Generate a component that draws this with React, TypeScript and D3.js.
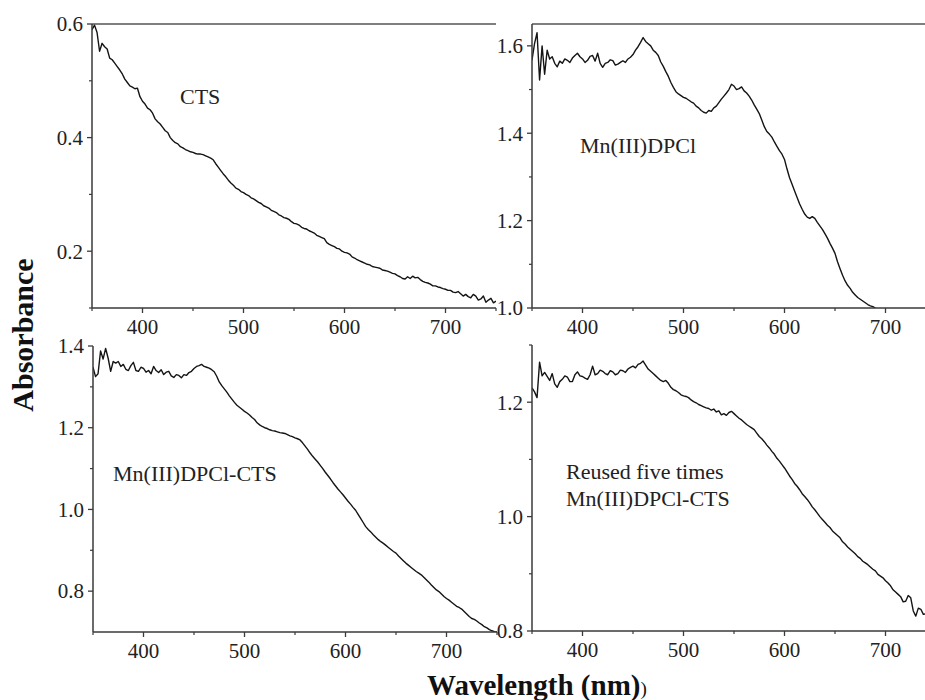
import React from "react";
import * as d3 from "d3";

// wavelengths (nm), 2.5 nm grid
const wavelengths: number[] = d3.range(350, 750.1, 2.5);

const ctsValues: number[] = [
  0.590, 0.598, 0.585, 0.552,
  0.566, 0.560, 0.556, 0.540,
  0.537, 0.531, 0.525, 0.519,
  0.512, 0.503, 0.497, 0.491,
  0.489, 0.486, 0.487, 0.472,
  0.464, 0.459, 0.452, 0.449,
  0.443, 0.433, 0.428, 0.424,
  0.418, 0.412, 0.409, 0.400,
  0.395, 0.391, 0.389, 0.384,
  0.382, 0.379, 0.377, 0.375,
  0.374, 0.372, 0.371, 0.371,
  0.370, 0.368, 0.366, 0.364,
  0.361, 0.354, 0.348, 0.342,
  0.336, 0.331, 0.325, 0.320,
  0.316, 0.311, 0.309, 0.305,
  0.303, 0.300, 0.298, 0.294,
  0.292, 0.289, 0.286, 0.284,
  0.280, 0.278, 0.276, 0.272,
  0.270, 0.268, 0.264, 0.262,
  0.259, 0.258, 0.256, 0.252,
  0.249, 0.248, 0.246, 0.242,
  0.240, 0.239, 0.236, 0.234,
  0.232, 0.228, 0.226, 0.224,
  0.222, 0.215, 0.212, 0.210,
  0.208, 0.205, 0.204, 0.200,
  0.198, 0.197, 0.195, 0.190,
  0.188, 0.185, 0.183, 0.181,
  0.179, 0.177, 0.176, 0.173,
  0.172, 0.171, 0.170, 0.167,
  0.166, 0.165, 0.163, 0.161,
  0.160, 0.157, 0.155, 0.152,
  0.151, 0.155, 0.152, 0.156,
  0.153, 0.154, 0.150, 0.147,
  0.145, 0.144, 0.142, 0.139,
  0.139, 0.137, 0.136, 0.134,
  0.133, 0.131, 0.131, 0.128,
  0.127, 0.129, 0.125, 0.121,
  0.124, 0.120, 0.118, 0.124,
  0.121, 0.114, 0.116, 0.121,
  0.110, 0.114, 0.117, 0.109,
  0.112,
];

// Mn(III)DPCl (350–690 nm)
const mnValues: number[] = [
  1.567, 1.605, 1.630, 1.522,
  1.600, 1.535, 1.590, 1.570,
  1.575, 1.560, 1.552, 1.565,
  1.560, 1.570, 1.567, 1.562,
  1.572, 1.578, 1.583, 1.575,
  1.570, 1.562, 1.567, 1.576,
  1.578, 1.565, 1.583, 1.560,
  1.551, 1.560, 1.562, 1.568,
  1.566, 1.556, 1.558, 1.562,
  1.566, 1.562, 1.570, 1.574,
  1.580, 1.590, 1.598, 1.608,
  1.619, 1.610, 1.605, 1.600,
  1.590, 1.585, 1.578, 1.563,
  1.553, 1.541, 1.530, 1.516,
  1.505, 1.495, 1.490, 1.486,
  1.482, 1.480, 1.476, 1.472,
  1.469, 1.462, 1.458, 1.452,
  1.448, 1.446, 1.452, 1.450,
  1.458, 1.462, 1.470, 1.478,
  1.485, 1.492, 1.500, 1.512,
  1.508, 1.500, 1.502, 1.506,
  1.497, 1.492, 1.485, 1.476,
  1.465, 1.455, 1.445, 1.430,
  1.415, 1.404, 1.398, 1.391,
  1.380, 1.370, 1.360, 1.352,
  1.340, 1.318, 1.298, 1.283,
  1.268, 1.253, 1.238, 1.226,
  1.215, 1.208, 1.205, 1.209,
  1.205, 1.196, 1.188, 1.180,
  1.170, 1.160, 1.148, 1.137,
  1.125, 1.106, 1.090, 1.075,
  1.062, 1.052, 1.045, 1.036,
  1.030, 1.024, 1.020, 1.016,
  1.012, 1.008, 1.005, 1.003,
  1.000,
];

const mnCtsValues: number[] = [
  1.348, 1.325, 1.332, 1.388,
  1.368, 1.394, 1.370, 1.338,
  1.362, 1.358, 1.362, 1.350,
  1.355, 1.343, 1.340, 1.352,
  1.360, 1.340, 1.338, 1.348,
  1.345, 1.336, 1.340, 1.332,
  1.350, 1.340, 1.335, 1.342,
  1.330, 1.336, 1.338, 1.327,
  1.323, 1.330, 1.328, 1.322,
  1.330, 1.328, 1.335, 1.338,
  1.345, 1.350, 1.352, 1.355,
  1.350, 1.348, 1.346, 1.342,
  1.337, 1.326, 1.312, 1.303,
  1.295, 1.287, 1.278, 1.270,
  1.262, 1.255, 1.250, 1.245,
  1.240, 1.236, 1.231, 1.225,
  1.220, 1.212, 1.207, 1.203,
  1.200, 1.198, 1.195, 1.193,
  1.192, 1.190, 1.188, 1.187,
  1.186, 1.183, 1.180, 1.178,
  1.175, 1.173, 1.170, 1.163,
  1.155, 1.147, 1.138, 1.130,
  1.123, 1.116, 1.108, 1.100,
  1.091, 1.083, 1.075, 1.066,
  1.058, 1.050, 1.043, 1.036,
  1.028, 1.020, 1.013, 1.005,
  0.998, 0.988, 0.978, 0.968,
  0.958, 0.951, 0.945, 0.938,
  0.932, 0.926, 0.921, 0.917,
  0.912, 0.907, 0.902, 0.897,
  0.893, 0.886, 0.880, 0.874,
  0.868, 0.863, 0.858, 0.853,
  0.848, 0.844, 0.840, 0.834,
  0.828, 0.822, 0.815, 0.809,
  0.803, 0.799, 0.793, 0.787,
  0.782, 0.778, 0.773, 0.768,
  0.763, 0.760, 0.756, 0.750,
  0.744, 0.738, 0.733, 0.731,
  0.727, 0.722, 0.718, 0.713,
  0.710, 0.706, 0.703, 0.701,
  0.700,
];

const reusedValues: number[] = [
  1.225, 1.218, 1.208, 1.270,
  1.246, 1.252, 1.245, 1.238,
  1.250, 1.232, 1.226, 1.236,
  1.240, 1.246, 1.244, 1.236,
  1.236, 1.248, 1.253, 1.246,
  1.245, 1.242, 1.240, 1.248,
  1.263, 1.248, 1.250, 1.256,
  1.254, 1.250, 1.248, 1.255,
  1.253, 1.248, 1.250, 1.256,
  1.255, 1.252, 1.258, 1.261,
  1.263, 1.260, 1.266, 1.268,
  1.272, 1.265, 1.258, 1.254,
  1.250, 1.246, 1.242, 1.238,
  1.236, 1.238, 1.233, 1.226,
  1.222, 1.220, 1.217, 1.213,
  1.211, 1.210, 1.208, 1.204,
  1.201, 1.199, 1.196, 1.194,
  1.192, 1.190, 1.189, 1.186,
  1.188, 1.183, 1.185, 1.178,
  1.180, 1.177, 1.182, 1.184,
  1.180, 1.176, 1.172, 1.169,
  1.165, 1.161, 1.158, 1.155,
  1.152, 1.146, 1.140, 1.136,
  1.131, 1.125, 1.120, 1.114,
  1.109, 1.102, 1.097, 1.091,
  1.085, 1.078, 1.071, 1.065,
  1.058, 1.053, 1.047, 1.040,
  1.035, 1.030, 1.024, 1.017,
  1.012, 1.006, 1.000, 0.995,
  0.990, 0.985, 0.981, 0.975,
  0.971, 0.967, 0.963, 0.956,
  0.952, 0.947, 0.943, 0.939,
  0.935, 0.930, 0.927, 0.922,
  0.919, 0.916, 0.912, 0.908,
  0.905, 0.899, 0.896, 0.893,
  0.888, 0.884, 0.879, 0.872,
  0.868, 0.864, 0.860, 0.851,
  0.852, 0.862, 0.858, 0.835,
  0.826, 0.840, 0.838, 0.829,
  0.830, 0.838, 0.835, 0.829,
  0.828,
];

const xMajorTicks: number[] = [400, 500, 600, 700];
const xMinorTicks: number[] = [350, 450, 550, 650, 750];

const panelLabels: string[][] = [
  ["CTS"],
  ["Mn(III)DPCl"],
  ["Mn(III)DPCl-CTS"],
  ["Reused five times", "Mn(III)DPCl-CTS"],
];

type Panel = {
  id: string;
  values: number[];
  left: number;
  top: number;
  bottom: number;
  yDomain: [number, number];
  yMajor: number[];
  yMinor: number[];
  topBorder: boolean;
  labels: string[];
  labelX: number;
  labelY: number;
};

const panels: Panel[] = [
  { id: "tl", values: ctsValues, left: 92, top: 24, bottom: 308, yDomain: [0.1, 0.6], yMajor: [0.2, 0.4, 0.6], yMinor: [0.1, 0.3, 0.5], topBorder: true, labels: panelLabels[0], labelX: 180, labelY: 104 },
  { id: "tr", values: mnValues, left: 532, top: 24, bottom: 308, yDomain: [1.0, 1.65], yMajor: [1.0, 1.2, 1.4, 1.6], yMinor: [1.1, 1.3, 1.5], topBorder: true, labels: panelLabels[1], labelX: 580, labelY: 153 },
  { id: "bl", values: mnCtsValues, left: 93, top: 346, bottom: 632, yDomain: [0.7, 1.4], yMajor: [0.8, 1.0, 1.2, 1.4], yMinor: [0.9, 1.1, 1.3], topBorder: false, labels: panelLabels[2], labelX: 113, labelY: 481 },
  { id: "br", values: reusedValues, left: 532, top: 345, bottom: 631, yDomain: [0.8, 1.3], yMajor: [0.8, 1.0, 1.2], yMinor: [0.9, 1.1, 1.3], topBorder: false, labels: panelLabels[3], labelX: 566, labelY: 479 },
];

const AXIS = "#3a3a3a";
const LINE = "#141414";
const FONT = "'Liberation Serif', 'Times New Roman', serif";

function PanelView({ p }: { p: Panel }) {
  const x = d3.scaleLinear().domain([350, 750]).range([p.left, p.left + 404]);
  const y = d3.scaleLinear().domain(p.yDomain).range([p.bottom, p.top]);
  const pts: [number, number][] = p.values.map((v, i) => [wavelengths[i], v]);
  const line = d3
    .line<[number, number]>()
    .x((d) => x(d[0]))
    .y((d) => y(d[1]));
  const fmt = d3.format(".1f");
  const clipId = "clip-" + p.id;
  return (
    <g>
      <defs>
        <clipPath id={clipId}>
          <rect x={p.left} y={p.top - 2} width={404} height={p.bottom - p.top + 2} />
        </clipPath>
      </defs>
      {p.topBorder && (
        <line x1={p.left} x2={p.left + 404} y1={p.top} y2={p.top} stroke="#555" strokeWidth={1.6} />
      )}
      <path d={line(pts) || ""} fill="none" stroke={LINE} strokeWidth={1.4} strokeLinejoin="round" clipPath={`url(#${clipId})`} />
      {/* y axis */}
      <line x1={p.left} x2={p.left} y1={p.top} y2={p.bottom} stroke={AXIS} strokeWidth={1.5} />
      {p.yMajor.map((t) => (
        <g key={"ym" + t}>
          <line x1={p.left - 5} x2={p.left} y1={y(t)} y2={y(t)} stroke={AXIS} strokeWidth={1.3} />
          <text x={p.left - 9} y={y(t)} dy="0.35em" textAnchor="end" fontSize={21} fontFamily={FONT} fill="#222">
            {fmt(t)}
          </text>
        </g>
      ))}
      {p.yMinor.map((t) => (
        <line key={"yn" + t} x1={p.left - 3} x2={p.left} y1={y(t)} y2={y(t)} stroke={AXIS} strokeWidth={1.2} />
      ))}
      {/* x axis */}
      <line x1={p.left} x2={p.left + 404} y1={p.bottom} y2={p.bottom} stroke={AXIS} strokeWidth={1.5} />
      {xMajorTicks.map((t) => (
        <g key={"xm" + t}>
          <line x1={x(t)} x2={x(t)} y1={p.bottom} y2={p.bottom + 5} stroke={AXIS} strokeWidth={1.3} />
          <text x={x(t)} y={p.bottom + 26} textAnchor="middle" fontSize={21} fontFamily={FONT} fill="#222">
            {t}
          </text>
        </g>
      ))}
      {xMinorTicks.map((t) => (
        <line key={"xn" + t} x1={x(t)} x2={x(t)} y1={p.bottom} y2={p.bottom + 3} stroke={AXIS} strokeWidth={1.2} />
      ))}
      {p.labels.map((s, i) => (
        <text key={s + i} x={p.labelX} y={p.labelY + i * 27} fontSize={22} fontFamily={FONT} fill="#222">
          {s}
        </text>
      ))}
    </g>
  );
}

export default function App() {
  return (
    <svg
      width={925}
      height={700}
      viewBox="0 0 925 700"
      style={{ position: "absolute", left: 0, top: 0, background: "#fff" }}
    >
      <rect x={0} y={0} width={925} height={700} fill="#fff" />
      {panels.map((p) => (
        <PanelView key={p.id} p={p} />
      ))}
      <text
        transform="translate(33,335) rotate(-90)"
        textAnchor="middle"
        fontSize={30}
        fontWeight="bold"
        fontFamily={FONT}
        fill="#111"
      >
        Absorbance
      </text>
      <text x={427} y={695} fontSize={29} fontWeight="bold" fontFamily={FONT} fill="#111">
        Wavelength (nm)
        <tspan fontSize={19} fontWeight="normal">)</tspan>
      </text>
    </svg>
  );
}
